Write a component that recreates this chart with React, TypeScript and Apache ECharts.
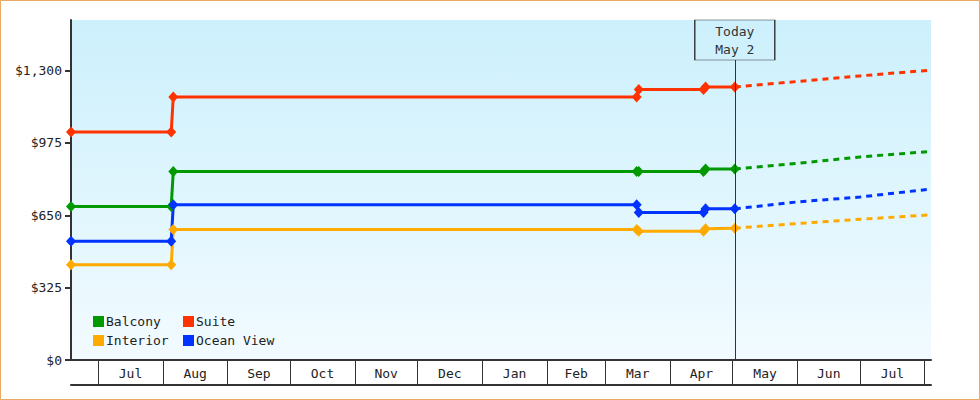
import React, { useEffect, useRef } from "react";
import * as echarts from "echarts";

const day = (s: string) => {
  const [y, m, d] = s.split("-").map(Number);
  return new Date(y, m - 1, d).getTime();
};

// price change dates (each change drawn as old value / new value one day apart)
const PRICE_DATES = ["2012-06-18", "2012-08-05", "2012-08-06", "2013-03-16", "2013-03-17", "2013-04-17", "2013-04-18", "2013-05-02"];
const FORECAST_DATES = ["2013-05-02", "2013-06-01", "2013-07-01", "2013-08-04"];

const BALCONY = [689, 689, 847, 847, 847, 847, 858, 858];
const SUITE = [1024, 1024, 1181, 1181, 1215, 1215, 1226, 1226];
const INTERIOR = [428, 428, 586, 586, 578, 578, 590, 592];
const OCEAN_VIEW = [533, 533, 697, 697, 662, 662, 679, 679];

const BALCONY_FC = [858, 883, 912, 937];
const SUITE_FC = [1226, 1251, 1276, 1302];
const INTERIOR_FC = [592, 613, 632, 652];
const OCEAN_VIEW_FC = [679, 710, 732, 768];

const MONTH_STARTS = [
  "2012-07-01", "2012-08-01", "2012-09-01", "2012-10-01", "2012-11-01", "2012-12-01", "2013-01-01",
  "2013-02-01", "2013-03-01", "2013-04-01", "2013-05-01", "2013-06-01", "2013-07-01", "2013-08-01",
];
const MONTH_LABELS = ["Jul", "Aug", "Sep", "Oct", "Nov", "Dec", "Jan", "Feb", "Mar", "Apr", "May", "Jun", "Jul"];

const Y_TICKS = [0, 325, 650, 975, 1300];
const Y_MAX = 1527;
const X_MIN = "2012-06-18";
const X_MAX = "2013-08-04";
const TODAY = "2013-05-02";

const FONT = "'DejaVu Sans Mono', monospace";
const INK = "#333";

export default function App() {
  const chartRef = useRef(null);

  useEffect(() => {
    if (!chartRef.current) return;
    const chart = echarts.init(chartRef.current, null, { renderer: "svg" });

    const starts = MONTH_STARTS.map(day);
    const mids = starts.slice(0, -1).map((s, i) => (s + starts[i + 1]) / 2);
    const labelOf = (v: number) => {
      const i = mids.findIndex((m) => Math.abs(m - v) < 1000);
      return i >= 0 ? MONTH_LABELS[i] : "";
    };

    const pts = (vals: number[], dates: string[]) => vals.map((v, i) => [day(dates[i]), v]);

    const solid = (name: string, color: string, vals: number[]) => ({
      name,
      type: "line",
      z: 3,
      data: pts(vals, PRICE_DATES),
      symbol: "diamond",
      symbolSize: [10, 11],
      showSymbol: true,
      lineStyle: { color, width: 3 },
      itemStyle: { color },
    });
    const dashed = (name: string, color: string, vals: number[]) => ({
      name,
      type: "line",
      z: 2,
      data: pts(vals, FORECAST_DATES),
      showSymbol: false,
      symbol: "none",
      lineStyle: { color, width: 3, type: [6, 5] },
      itemStyle: { color },
    });

    const plotH = 340;
    const lineTop = Y_MAX * (1 - 40 / plotH);

    const legendBase = {
      orient: "vertical",
      top: 315,
      padding: 0,
      icon: "rect",
      itemWidth: 11,
      itemHeight: 11,
      itemGap: 6,
      textStyle: { fontFamily: FONT, fontSize: 13, color: "#222", padding: [0, 0, 0, -3] },
    };

    const option = {
      animation: false,
      textStyle: { fontFamily: FONT },
      graphic: [
        {
          type: "rect",
          shape: { x: 0.5, y: 0.5, width: 979, height: 399 },
          style: { fill: "none", stroke: "#e8a962", lineWidth: 1 },
          silent: true,
        },
      ],
      grid: {
        left: 71,
        right: 49,
        top: 20,
        bottom: 40,
        show: true,
        borderWidth: 0,
        backgroundColor: new echarts.graphic.LinearGradient(0, 0, 0, 1, [
          { offset: 0, color: "#ccf0fc" },
          { offset: 1, color: "#f2fbff" },
        ]),
      },
      legend: [
        { ...legendBase, data: ["Balcony", "Interior"], left: 93 },
        { ...legendBase, data: ["Suite", "Ocean View"], left: 183 },
      ],
      xAxis: [
        {
          type: "value",
          min: day(X_MIN),
          max: day(X_MAX),
          axisLine: { show: true, lineStyle: { color: INK, width: 2 } },
          axisTick: { show: true, customValues: starts, length: 25, lineStyle: { color: INK, width: 1 } },
          axisLabel: {
            customValues: mids,
            formatter: (v: number) => labelOf(v),
            margin: 7,
            fontFamily: FONT,
            fontSize: 13,
            color: "#222",
          },
          splitLine: { show: false },
        },
        {
          type: "value",
          position: "bottom",
          offset: 25,
          min: day(X_MIN),
          max: day(X_MAX),
          axisLine: { show: true, lineStyle: { color: INK, width: 2 } },
          axisTick: { show: false },
          axisLabel: { show: false },
          splitLine: { show: false },
        },
      ],
      yAxis: {
        type: "value",
        min: 0,
        max: Y_MAX,
        axisLine: { show: true, lineStyle: { color: INK, width: 2 } },
        axisTick: { show: true, customValues: Y_TICKS, length: 6, lineStyle: { color: INK, width: 2 } },
        axisLabel: {
          customValues: Y_TICKS,
          formatter: (v: number) => "$" + v.toLocaleString("en-US"),
          margin: 9,
          fontFamily: FONT,
          fontSize: 13,
          color: "#222",
        },
        splitLine: { show: false },
      },
      series: [
        {
          name: "today",
          type: "line",
          z: 1,
          data: [],
          markLine: {
            silent: true,
            symbol: "none",
            label: { show: false },
            lineStyle: { color: INK, width: 1, type: "solid" },
            data: [[{ coord: [day(TODAY), 0] }, { coord: [day(TODAY), lineTop] }]],
          },
          markPoint: {
            silent: true,
            symbol: "rect",
            symbolSize: [80, 40],
            symbolOffset: [0, 20],
            itemStyle: { color: "rgba(0,0,0,0)", borderColor: INK, borderWidth: 1 },
            label: {
              show: true,
              position: "inside",
              formatter: "Today\nMay 2",
              color: INK,
              fontFamily: FONT,
              fontSize: 13,
              lineHeight: 18,
            },
            data: [{ coord: [day(TODAY), Y_MAX] }],
          },
        },
        dashed("Balcony", "#009900", BALCONY_FC),
        dashed("Suite", "#ff3300", SUITE_FC),
        dashed("Interior", "#ffaa00", INTERIOR_FC),
        dashed("Ocean View", "#0033ff", OCEAN_VIEW_FC),
        solid("Balcony", "#009900", BALCONY),
        solid("Suite", "#ff3300", SUITE),
        solid("Interior", "#ffaa00", INTERIOR),
        solid("Ocean View", "#0033ff", OCEAN_VIEW),
      ],
    };

    chart.setOption(option);
    return () => chart.dispose();
  }, []);

  return (
    <div
      ref={chartRef}
      style={{ position: "absolute", left: 0, top: 0, width: "980px", height: "400px", background: "#fff" }}
    />
  );
}
